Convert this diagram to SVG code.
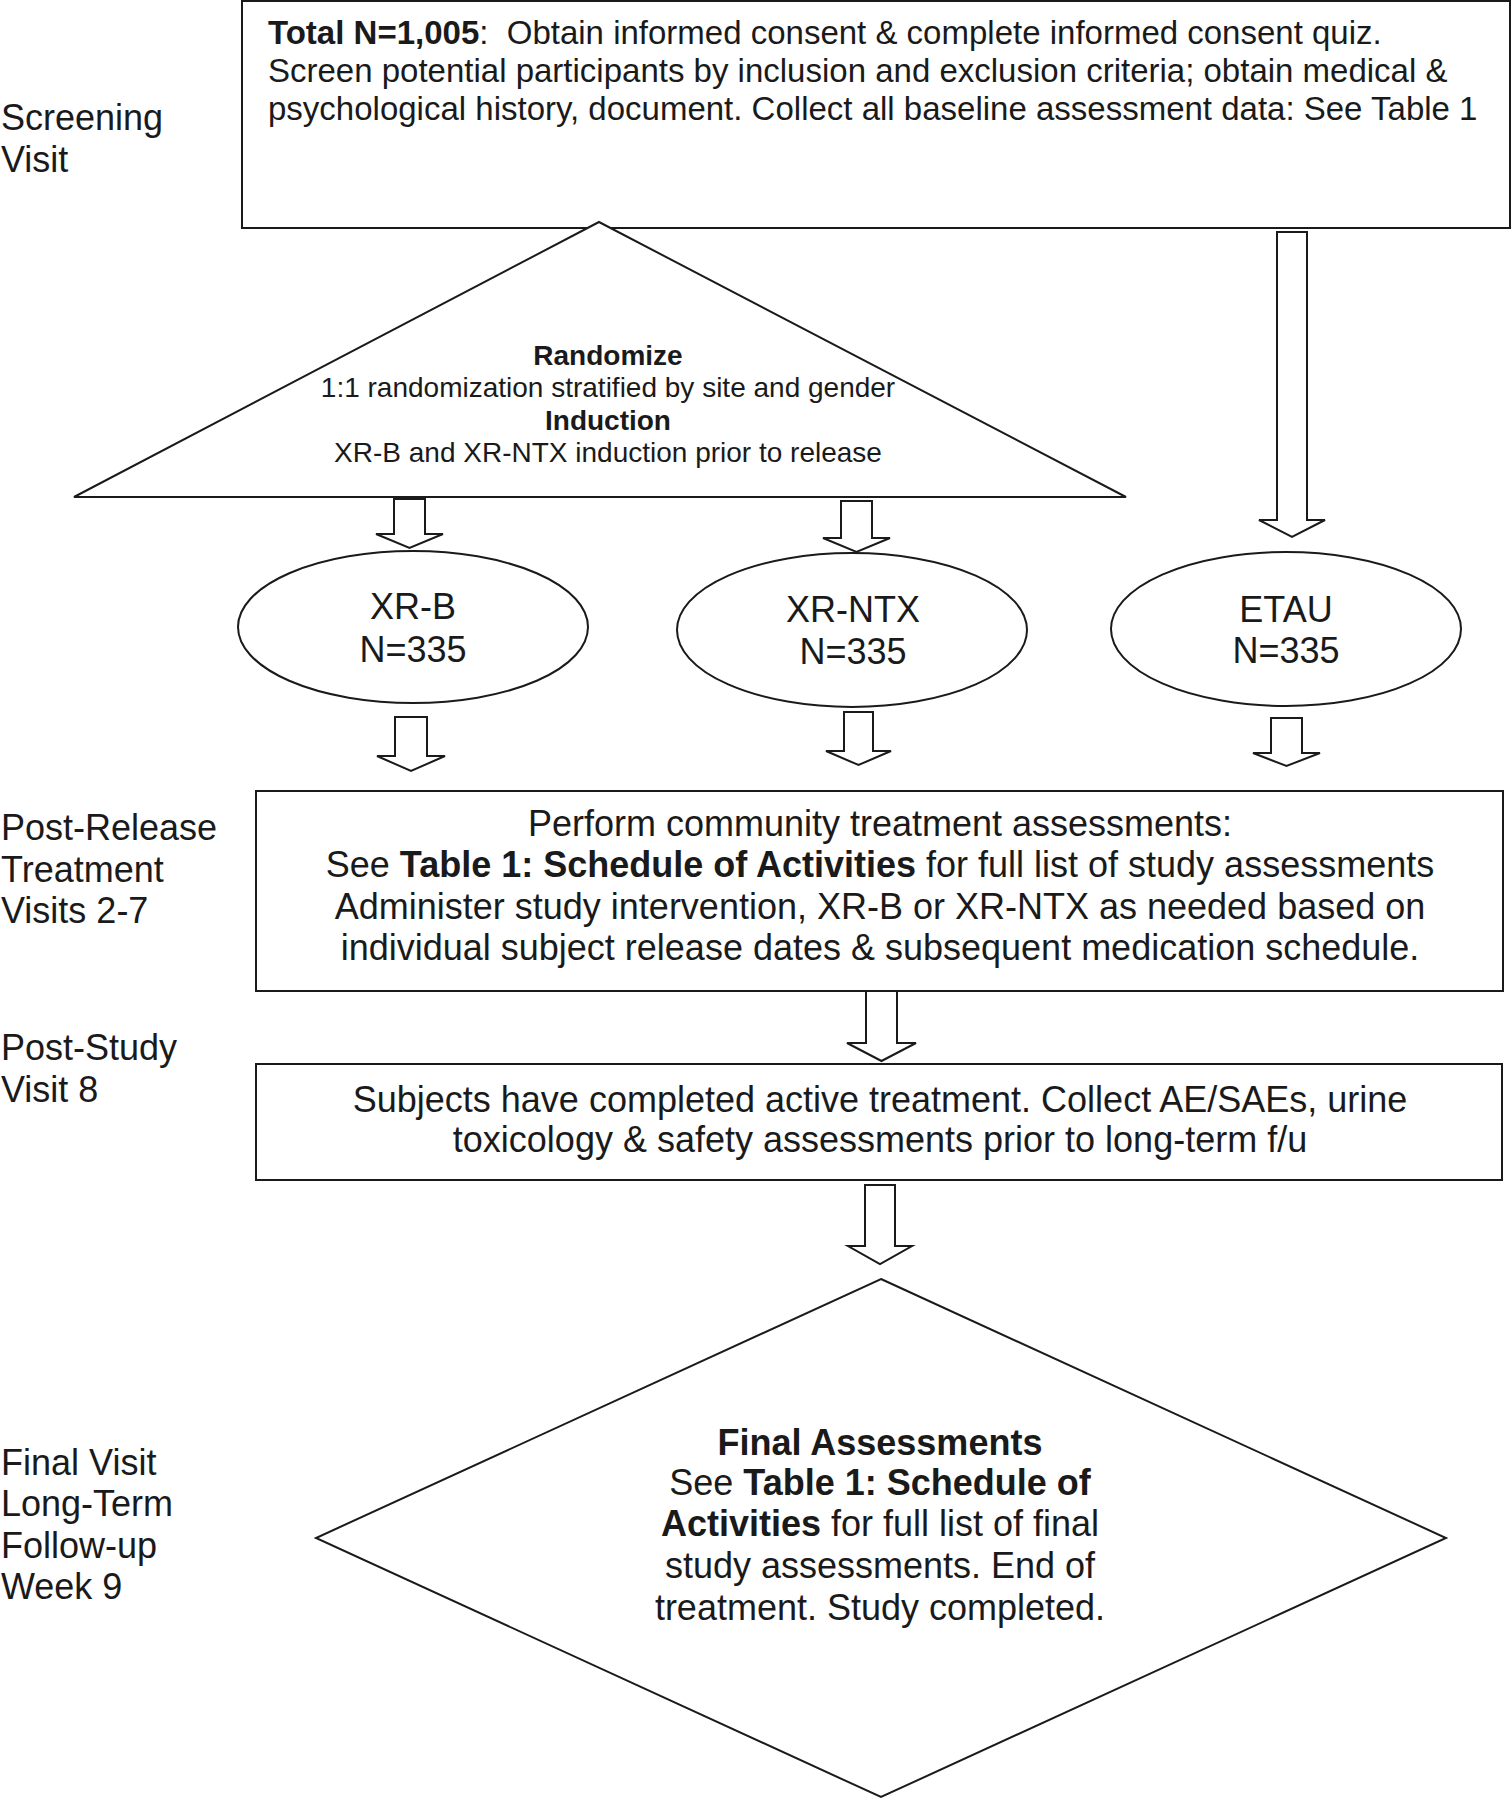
<svg xmlns="http://www.w3.org/2000/svg" width="1512" height="1800" viewBox="0 0 1512 1800">
<style>
  .shape { fill: #ffffff; stroke: #1a1a1a; stroke-width: 2; }
  .arrow { fill: #ffffff; stroke: #1a1a1a; stroke-width: 2; stroke-linejoin: miter; }
  text { font-family: "Liberation Sans", Arial, sans-serif; fill: #1a1a1a; }
  .lbl { font-size: 36px; }
  .top { font-size: 33px; }
  .tri { font-size: 28px; text-anchor: middle; }
  .mid { font-size: 36px; text-anchor: middle; }
  .b { font-weight: bold; }
</style>
<rect width="1512" height="1800" fill="#ffffff"/>

<g id="labels">
  <text class="lbl" x="1" y="130">Screening</text>
  <text class="lbl" x="1" y="172">Visit</text>
  <text class="lbl" x="1" y="840">Post-Release</text>
  <text class="lbl" x="1" y="882">Treatment</text>
  <text class="lbl" x="1" y="923">Visits 2-7</text>
  <text class="lbl" x="1" y="1060">Post-Study</text>
  <text class="lbl" x="1" y="1102">Visit 8</text>
  <text class="lbl" x="1" y="1475">Final Visit</text>
  <text class="lbl" x="1" y="1516">Long-Term</text>
  <text class="lbl" x="1" y="1558">Follow-up</text>
  <text class="lbl" x="1" y="1599">Week 9</text>
</g>

<g id="screening">
  <rect class="shape" x="242" y="1" width="1268" height="227"/>
  <text class="top" x="268" y="44"><tspan class="b">Total N=1,005</tspan>:&#160; Obtain informed consent &amp; complete informed consent quiz.</text>
  <text class="top" x="268" y="82">Screen potential participants by inclusion and exclusion criteria; obtain medical &amp;</text>
  <text class="top" x="268" y="120">psychological history, document. Collect all baseline assessment data: See Table 1</text>
</g>

<g id="randomize">
  <polygon class="shape" points="599,222 1126,497 74,497"/>
  <text class="tri b" x="608" y="365">Randomize</text>
  <text class="tri" x="608" y="397">1:1 randomization stratified by site and gender</text>
  <text class="tri b" x="608" y="430">Induction</text>
  <text class="tri" x="608" y="462">XR-B and XR-NTX induction prior to release</text>
</g>

<g id="xrb">
  <ellipse class="shape" cx="413" cy="627" rx="175" ry="76"/>
  <text class="mid" x="413" y="619">XR-B</text>
  <text class="mid" x="413" y="662">N=335</text>
</g>

<g id="xrntx">
  <ellipse class="shape" cx="852" cy="630" rx="175" ry="77"/>
  <text class="mid" x="853" y="622">XR-NTX</text>
  <text class="mid" x="853" y="664">N=335</text>
</g>

<g id="etau">
  <ellipse class="shape" cx="1286" cy="629" rx="175" ry="77"/>
  <text class="mid" x="1286" y="622">ETAU</text>
  <text class="mid" x="1286" y="663">N=335</text>
</g>

<g id="post-release">
  <rect class="shape" x="256" y="791" width="1247" height="200"/>
  <text class="mid" x="880" y="836">Perform community treatment assessments:</text>
  <text class="mid" x="880" y="877">See <tspan class="b">Table 1: Schedule of Activities</tspan> for full list of study assessments</text>
  <text class="mid" x="880" y="919">Administer study intervention, XR-B or XR-NTX as needed based on</text>
  <text class="mid" x="880" y="960">individual subject release dates &amp; subsequent medication schedule.</text>
</g>

<g id="post-study">
  <rect class="shape" x="256" y="1064" width="1246" height="116"/>
  <text class="mid" x="880" y="1112">Subjects have completed active treatment. Collect AE/SAEs, urine</text>
  <text class="mid" x="880" y="1152">toxicology &amp; safety assessments prior to long-term f/u</text>
</g>

<g id="final">
  <polygon class="shape" points="881,1279 1446,1538 881,1797 316,1538"/>
  <text class="mid b" x="880" y="1455">Final Assessments</text>
  <text class="mid" x="880" y="1495">See <tspan class="b">Table 1: Schedule of</tspan></text>
  <text class="mid" x="880" y="1536"><tspan class="b">Activities</tspan> for full list of final</text>
  <text class="mid" x="880" y="1578">study assessments. End of</text>
  <text class="mid" x="880" y="1620">treatment. Study completed.</text>
</g>

<g id="connectors">
  <polygon class="arrow" points="394,499 425,499 425,534 443,534 409.5,548 376,534 394,534"/>
  <polygon class="arrow" points="841,501 872,501 872,538 890,538 856.5,552 823,538 841,538"/>
  <polygon class="arrow" points="1277,232 1307,232 1307,520 1325,520 1292,537 1259,520 1277,520"/>
  <polygon class="arrow" points="395,717 427,717 427,756 445,756 411,771 377,756 395,756"/>
  <polygon class="arrow" points="844,712 873,712 873,751 891,751 858.5,765 826,751 844,751"/>
  <polygon class="arrow" points="1271,718 1302,718 1302,753 1320,753 1286.5,766 1253,753 1271,753"/>
  <polygon class="arrow" points="866,991 897,991 897,1043 916,1043 881.5,1061 847,1043 866,1043"/>
  <polygon class="arrow" points="865,1185 895,1185 895,1246 912,1246 880,1264 848,1246 865,1246"/>
</g>
</svg>
